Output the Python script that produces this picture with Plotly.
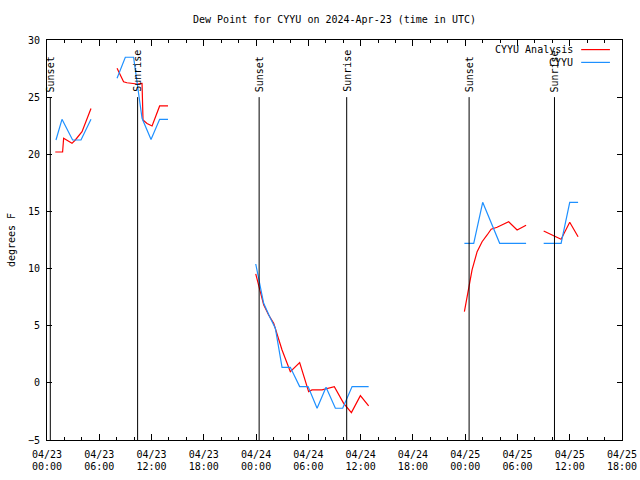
import plotly.graph_objects as go

# Hours since 2024-04-23 00:00 UTC (None = gap)
analysis_hours = [0.95, 1.79, 1.91, 2.30, 2.87, 3.25, 4.02, 5.05, None,
                  8.04, 8.79, 9.18, 9.76, 10.33, 10.91, 11.02, 11.48, 12.06, 12.93, 13.89, None,
                  23.96, 24.29, 24.87, 25.44, 26.02, 26.98, 27.93, 29.00, 30.03, 30.42, 31.57,
                  32.98, 34.05, 34.94, 35.97, 36.92, None,
                  47.91, 48.40, 48.79, 49.37, 49.94, 50.52, 50.98, 51.66, 52.42, 52.99, 53.96, 54.99, None,
                  57.01, 59.01, 60.00, 60.96]
analysis_dew = [20.2, 20.2, 21.4, 21.25, 20.96, 21.25, 21.98, 24.0, None,
                27.52, 26.35, 26.26, 26.2, 26.15, 26.2, 23.0, 22.7, 22.48, 24.23, 24.23, None,
                9.53, 8.56, 6.82, 5.94, 5.21, 2.88, 0.98, 1.77, -0.77, -0.62, -0.62,
                -0.33, -1.79, -2.6, -1.12, -2.02, None,
                6.23, 8.13, 9.88, 11.48, 12.35, 12.94, 13.44, 13.61, 13.88, 14.1, 13.38, 13.79, None,
                13.29, 12.56, 14.05, 12.79]

obs_hours = [1.03, 1.72, 2.94, 3.90, 5.05, None,
             8.04, 8.99, 9.94, 10.91, 11.94, 12.93, 13.89, None,
             23.96, 24.45, 24.87, 25.64, 26.21, 26.98, 27.93, 29.00, 29.97, 31.00, 32.03,
             33.10, 33.94, 35.02, 36.92, None,
             47.91, 48.98, 50.01, 51.96, 54.99, None,
             57.01, 59.01, 60.00, 60.96]
obs_dew = [21.25, 23.06, 21.25, 21.25, 23.06, None,
           26.65, 28.49, 28.49, 23.15, 21.3, 23.06, 23.06, None,
           10.4, 8.7, 6.96, 5.65, 4.78, 1.36, 1.36, -0.33, -0.33, -2.22, -0.39,
           -2.22, -2.22, -0.33, -0.33, None,
           12.21, 12.21, 15.8, 12.21, 12.21, None,
           12.21, 12.21, 15.8, 15.8]

sun_hours = [0.38, 10.40, 24.35, 34.40, 48.45, 58.25]
sun_labels = ["Sunset", "Sunrise", "Sunset", "Sunrise", "Sunset", "Sunrise"]

tick_hours = [0, 6, 12, 18, 24, 30, 36, 42, 48, 54, 60, 66]
tick_dates = ["04/23", "04/23", "04/23", "04/23", "04/24", "04/24",
              "04/24", "04/24", "04/25", "04/25", "04/25", "04/25"]
tick_times = ["00:00", "06:00", "12:00", "18:00", "00:00", "06:00",
              "12:00", "18:00", "00:00", "06:00", "12:00", "18:00"]

FONT = "DejaVu Sans Mono"
RED = "#ff0000"
BLUE = "#1e90ff"

W, H = 640, 480

fig = go.Figure()
fig.add_trace(go.Scatter(x=analysis_hours, y=analysis_dew, mode="lines",
                         line=dict(color=RED, width=1.2), name="CYYU Analysis",
                         connectgaps=False))
fig.add_trace(go.Scatter(x=obs_hours, y=obs_dew, mode="lines",
                         line=dict(color=BLUE, width=1.2), name="CYYU",
                         connectgaps=False))
# invisible trace to carry the second (time-of-day) label row
fig.add_trace(go.Scatter(x=[tick_hours[0], tick_hours[-1]], y=[None, None], xaxis="x2",
                         mode="lines", showlegend=False, hoverinfo="skip"))

for h, lab in zip(sun_hours, sun_labels):
    fig.add_shape(type="line", x0=h, x1=h, y0=-5, y1=25, xref="x", yref="y",
                  line=dict(color="black", width=1))
    fig.add_annotation(x=h, y=25, xref="x", yref="y", text=lab, textangle=-90,
                       showarrow=False, xanchor="center", yanchor="bottom", yshift=3,
                       font=dict(family=FONT, size=10, color="black"))

# legend (gnuplot style: text right-aligned, sample line to the right)
for name, col, yp in [("CYYU Analysis", RED, 0.976), ("CYYU", BLUE, 0.944)]:
    fig.add_annotation(x=0.919, y=yp, xref="paper", yref="paper", text=name,
                       showarrow=False, xanchor="right", yanchor="middle",
                       font=dict(family=FONT, size=10, color="black"))
    fig.add_shape(type="line", x0=0.929, x1=0.979, y0=yp, y1=yp,
                  xref="paper", yref="paper", line=dict(color=col, width=1.2))

fig.update_layout(
    width=W, height=H,
    margin=dict(l=47, r=18, t=40, b=40),
    paper_bgcolor="white", plot_bgcolor="white",
    showlegend=False,
    font=dict(family=FONT, size=10, color="black"),
    title=dict(text="Dew Point for CYYU on 2024-Apr-23 (time in UTC)",
               x=0.5, xref="paper", xanchor="center",
               y=1 - 19 / H, yref="container", yanchor="middle",
               font=dict(family=FONT, size=10, color="black"),
               automargin=False),
    xaxis=dict(range=[0, 66], tickmode="array", tickvals=tick_hours, ticktext=tick_dates,
               ticks="inside", ticklen=6, tickcolor="black", showline=True,
               linecolor="black", linewidth=1, mirror="ticks", showgrid=False,
               zeroline=False, ticklabelstandoff=5, automargin=False,
               minor=dict(dtick=2, tick0=0, ticks="inside", ticklen=3, tickcolor="black",
                          showgrid=False)),
    xaxis2=dict(range=[0, 66], overlaying="x", anchor="y", side="bottom",
                tickmode="array", tickvals=tick_hours, ticktext=tick_times,
                ticks="", showline=False, showgrid=False, zeroline=False,
                ticklabelstandoff=19, automargin=False),
    yaxis=dict(range=[-5, 30], dtick=5, tick0=0, ticks="inside", ticklen=5,
               tickcolor="black", showline=True, linecolor="black", linewidth=1,
               mirror="ticks", showgrid=False, zeroline=False, ticklabelstandoff=4,
               automargin=False,
               title=dict(text="degrees F", standoff=10,
                          font=dict(family=FONT, size=10, color="black"))),
)

# remove the browser's default 8px body margin so the 640x480 figure fills the window
fig.write_html("out.html", config={"displayModeBar": False},
               post_script="document.body.style.margin='0';document.body.style.overflow='hidden';")
